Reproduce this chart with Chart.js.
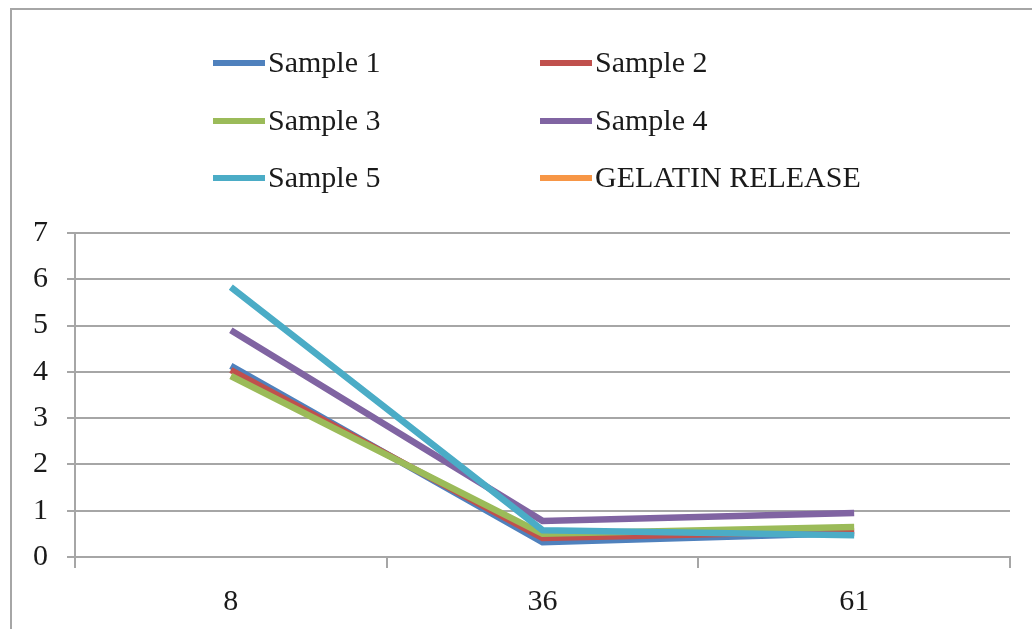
<!DOCTYPE html>
<html>
<head>
<meta charset="utf-8">
<script src="https://cdn.jsdelivr.net/npm/chart.js@4/dist/chart.umd.min.js"></script>
<style>
  html, body { margin: 0; padding: 0; background: #fff; }
  #wrap { position: relative; width: 1032px; height: 629px; overflow: hidden; }
  #frame { position: absolute; left: 10px; top: 8px; width: 1030px; height: 640px;
           border-left: 2px solid #a6a6a6; border-top: 2px solid #a6a6a6; box-sizing: border-box; }
  #chart { position: absolute; left: 0; top: 0; }
  .lg { position: absolute; font-family: "Liberation Serif", serif; font-size: 30px; color: #1a1a1a;
        line-height: 30px; white-space: nowrap; }
  .lg i { display: inline-block; width: 52px; height: 6px; vertical-align: middle; margin-right: 3px;
          position: relative; top: -2px; }
</style>
</head>
<body>
<div id="wrap">
  <div id="frame"></div>
  <canvas id="chart" width="1032" height="629"></canvas>
  <div id="legend"></div>
</div>
<script>
// ── Data ────────────────────────────────────────────────────────────────────
const labels = ['8', '36', '61'];
const seriesNames = ['Sample 1', 'Sample 2', 'Sample 3', 'Sample 4', 'Sample 5', 'GELATIN RELEASE'];
const sample1 = [4.13, 0.32, 0.52];
const sample2 = [4.04, 0.41, 0.56];
const sample3 = [3.91, 0.50, 0.65];
const sample4 = [4.90, 0.78, 0.95];
const sample5 = [5.83, 0.58, 0.47];
const gelatin = [null, null, null];
const yTicks = [0, 1, 2, 3, 4, 5, 6, 7];

const colors = ['#4f81bd', '#c0504d', '#9bbb59', '#8064a2', '#4bacc6', '#f79646'];
const values = [sample1, sample2, sample3, sample4, sample5, gelatin];
const FONT = '"Liberation Serif", serif';

// ── Legend (two columns, like the Excel original) ───────────────────────────
const legendEl = document.getElementById('legend');
seriesNames.forEach((name, i) => {
  const d = document.createElement('div');
  d.className = 'lg';
  d.style.left = (i % 2 === 0 ? 213 : 540) + 'px';
  d.style.top = (47 + Math.floor(i / 2) * 57.5) + 'px';
  d.innerHTML = '<i style="background:' + colors[i] + '"></i>' + name;
  legendEl.appendChild(d);
});

// ── Chart ───────────────────────────────────────────────────────────────────
new Chart(document.getElementById('chart'), {
  type: 'line',
  data: {
    labels,
    datasets: values.map((v, i) => ({
      label: seriesNames[i],
      data: v,
      borderColor: colors[i],
      backgroundColor: colors[i],
      borderWidth: 6.5,
      pointRadius: 0,
      tension: 0,
      fill: false,
      order: values.length - i
    }))
  },
  options: {
    responsive: false,
    animation: false,
    layout: { padding: { top: 233, right: 22, left: 0, bottom: 0 } },
    plugins: { legend: { display: false }, tooltip: { enabled: false } },
    scales: {
      x: {
        offset: true,
        grid: { offset: true, drawOnChartArea: false, drawTicks: true, tickLength: 11, color: '#a6a6a6', lineWidth: 2 },
        border: { display: true, color: '#a6a6a6', width: 2 },
        ticks: { font: { family: FONT, size: 30 }, color: '#1a1a1a', padding: 16 },
        afterFit: s => { s.height = 72; }
      },
      y: {
        min: 0, max: 7,
        afterBuildTicks: s => { s.ticks = yTicks.map(v => ({ value: v })); },
        grid: { color: '#a6a6a6', lineWidth: 2, tickLength: 8 },
        border: { display: true, color: '#a6a6a6', width: 2 },
        ticks: { font: { family: FONT, size: 30 }, color: '#1a1a1a', padding: 19 },
        afterFit: s => { s.width = 75; }
      }
    }
  }
});
</script>
</body>
</html>
